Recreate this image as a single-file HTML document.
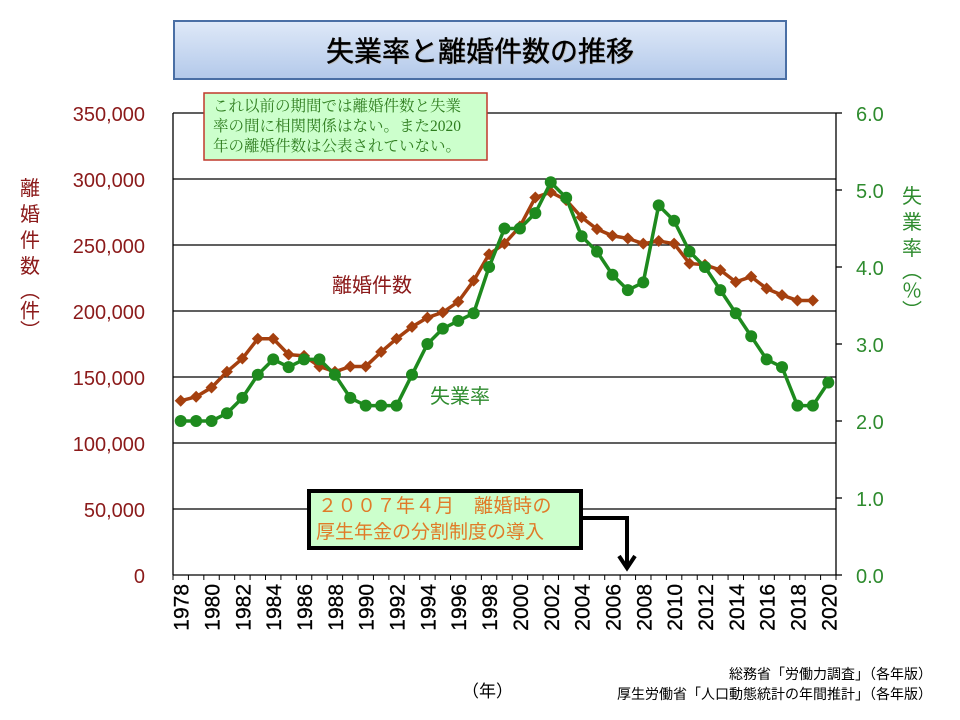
<!DOCTYPE html>
<html><head><meta charset="utf-8"><style>
body{margin:0;background:#fff;width:960px;height:720px;overflow:hidden;font-family:"Liberation Sans","Noto Sans CJK JP",sans-serif}
</style></head><body>
<svg id="s" width="960" height="720" xmlns="http://www.w3.org/2000/svg" style="position:absolute;left:0;top:0">
<defs><linearGradient id="tg" x1="0" y1="0" x2="0" y2="1"><stop offset="0" stop-color="#dfe9f8"/><stop offset="1" stop-color="#b3c9ea"/></linearGradient></defs>
<rect x="174" y="21" width="612" height="58" fill="url(#tg)" stroke="#4a6fa5" stroke-width="2"/>
<text x="481" y="62" text-anchor="middle" font-size="28" font-family="Liberation Sans,Noto Sans CJK JP,sans-serif" fill="#bbb">失業率と離婚件数の推移</text>
<text x="480" y="61" text-anchor="middle" font-size="28" font-family="Liberation Sans,Noto Sans CJK JP,sans-serif" fill="#000" stroke="#000" stroke-width="0.4">失業率と離婚件数の推移</text>
<g id="grid" stroke="#000" stroke-width="1.3"></g>
<g id="lab" font-family="Liberation Sans,Noto Sans CJK JP,sans-serif"></g>
<g id="ser"></g>
<rect x="204" y="93" width="283" height="67" fill="#ccffcc" stroke="#c0392b" stroke-width="1.5"/>
<text font-family="Liberation Serif,Noto Serif CJK SC,Noto Sans CJK JP,serif" font-size="15.5" fill="#2e7d1e">
<tspan x="213" y="111">これ以前の期間では離婚件数と失業</tspan>
<tspan x="213" y="131">率の間に相関関係はない。また2020</tspan>
<tspan x="213" y="151">年の離婚件数は公表されていない。</tspan></text>
<text x="332" y="292" font-size="20" fill="#8b1a1a">離婚件数</text>
<text x="430" y="403" font-size="20" fill="#2e8b2e">失業率</text>
<rect x="309" y="491" width="272" height="57" fill="#ccffcc" stroke="#000" stroke-width="4"/>
<text font-size="19" fill="#e07b28"><tspan x="318" y="512" letter-spacing="0.5">２００７年４月　離婚時の</tspan><tspan x="316" y="538">厚生年金の分割制度の導入</tspan></text>
<polyline points="581,518 627,518 627,566" fill="none" stroke="#000" stroke-width="4"/>
<polyline points="619,556 627,568 635,556" fill="none" stroke="#000" stroke-width="4"/>
<text font-size="20" fill="#8b1a1a" text-anchor="middle"><tspan x="30" y="195">離</tspan><tspan x="30" y="221">婚</tspan><tspan x="30" y="247">件</tspan><tspan x="30" y="273">数</tspan></text>
<text x="30" y="280" font-size="20" fill="#8b1a1a" style="writing-mode:tb" font-family="Noto Sans CJK JP,sans-serif">（件）</text>
<text font-size="20" fill="#2e8b2e" text-anchor="middle"><tspan x="912" y="203">失</tspan><tspan x="912" y="229">業</tspan><tspan x="912" y="255">率</tspan></text>
<text x="912" y="260" font-size="20" fill="#2e8b2e" style="writing-mode:tb" font-family="Noto Sans CJK JP,sans-serif">（％）</text>
<text x="462" y="697" font-size="17" fill="#000">（年）</text>
<text x="932" y="679" font-size="14" fill="#000" text-anchor="end">総務省「労働力調査」（各年版）</text>
<text x="932" y="699" font-size="14" fill="#000" text-anchor="end">厚生労働省「人口動態統計の年間推計」（各年版）</text>
</svg>
<script>
var NS="http://www.w3.org/2000/svg";
function el(p,t,a,txt){var e=document.createElementNS(NS,t);for(var k in a)e.setAttribute(k,a[k]);if(txt!=null)e.textContent=txt;document.getElementById(p).appendChild(e);return e;}
var L=173,R=836,T=113,B=575,w=(R-L)/43;
for(var i=0;i<=7;i++){var y=B-i*66;el('grid','line',{x1:L,x2:R,y1:y,y2:y});
el('lab','text',{x:145,y:y+8,'text-anchor':'end','font-size':20,fill:'#8b1a1a'},i==0?'0':(i*50)+',000');}
for(var j=0;j<=6;j++){var y=B-j*77;el('grid','line',{x1:R,x2:R+6,y1:y,y2:y});
el('lab','text',{x:856,y:y+8,'font-size':20,fill:'#2e8b2e'},j.toFixed(1));}
el('grid','line',{x1:L,x2:L,y1:T,y2:B});el('grid','line',{x1:R,x2:R,y1:T,y2:B});
for(var i=0;i<=43;i++){var x=L+i*w;el('grid','line',{x1:x,x2:x,y1:B,y2:B+5,'stroke-width':1});}
for(var i=0;i<43;i+=2){var x=L+(i+0.5)*w+8;el('lab','text',{'font-size':21,fill:'#000','text-anchor':'end',stroke:'#000','stroke-width':0.3,transform:'translate('+x+',584) rotate(-90)'},String(1978+i));}
var d=[132,135,142,154,164,179,179,167,166,158,154,158,158,169,179,188,195,199,207,223,243,251,264,286,290,284,271,262,257,255,251,253,251,236,235,231,222,226,217,212,208,208];
var u=[2.0,2.0,2.0,2.1,2.3,2.6,2.8,2.7,2.8,2.8,2.6,2.3,2.2,2.2,2.2,2.6,3.0,3.2,3.3,3.4,4.0,4.5,4.5,4.7,5.1,4.9,4.4,4.2,3.9,3.7,3.8,4.8,4.6,4.2,4.0,3.7,3.4,3.1,2.8,2.7,2.2,2.2,2.5];
function X(i){return L+(i+0.5)*w;}
var pd=d.map(function(v,i){return X(i)+','+(B-v*1.32)}).join(' ');
var pu=u.map(function(v,i){return X(i)+','+(B-v*77)}).join(' ');
el('ser','polyline',{points:pd,fill:'none',stroke:'#a5400f','stroke-width':3.5});
d.forEach(function(v,i){var x=X(i),y=B-v*1.32;el('ser','polygon',{points:(x-6)+','+y+' '+x+','+(y-6)+' '+(x+6)+','+y+' '+x+','+(y+6),fill:'#a5400f'});});
el('ser','polyline',{points:pu,fill:'none',stroke:'#1e8a1e','stroke-width':3.5});
u.forEach(function(v,i){el('ser','circle',{cx:X(i),cy:B-v*77,r:6,fill:'#1e8a1e'});});
</script>
</body></html>
